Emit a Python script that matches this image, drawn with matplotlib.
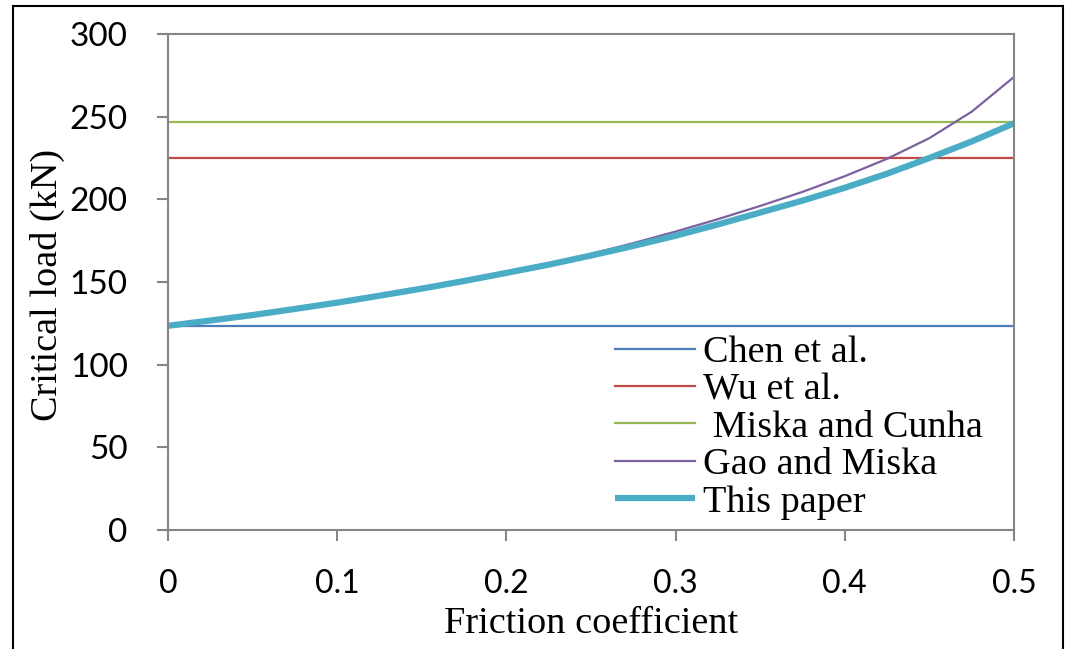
import matplotlib
matplotlib.use("Agg")
import matplotlib.pyplot as plt
from matplotlib.patches import Rectangle

# friction coefficient and critical loads (kN)
mu = [0.0, 0.025, 0.05, 0.075, 0.1, 0.125, 0.15, 0.175, 0.2, 0.225, 0.25,
      0.275, 0.3, 0.325, 0.35, 0.375, 0.4, 0.425, 0.45, 0.475, 0.5]
chen = 123.5
wu = 225.3
miska_cunha = 246.8
gao_miska = [123.5, 126.7, 130.0, 133.7, 137.5, 141.7, 146.0, 150.7, 155.7, 161.0, 167.0,
             173.5, 180.5, 188.0, 196.0, 204.5, 214.0, 224.5, 237.0, 253.0, 274.0]
this_paper = [123.5, 126.7, 130.0, 133.7, 137.5, 141.7, 146.0, 150.6, 155.5, 160.5, 166.0,
              171.8, 178.0, 184.8, 192.0, 199.2, 207.0, 215.5, 225.0, 235.0, 246.0]

labels = ["Chen et al.", "Wu et al.", " Miska and Cunha", "Gao and Miska", "This paper"]
colors = ["#4A7EBB", "#BE4B48", "#98B954", "#7D60A0", "#4BACC6"]

fig = plt.figure(figsize=(10.68, 6.49), dpi=100)
ax = fig.add_axes([0.1573, 0.1834, 0.7921, 0.7642])

ax.plot([mu[0], mu[-1]], [chen, chen], color=colors[0], lw=1.6, label=labels[0])
ax.plot([mu[0], mu[-1]], [wu, wu], color=colors[1], lw=1.6, label=labels[1])
ax.plot([mu[0], mu[-1]], [miska_cunha, miska_cunha], color=colors[2], lw=1.6, label=labels[2])
ax.plot(mu, gao_miska, color=colors[3], lw=1.6, label=labels[3])
ax.plot(mu, this_paper, color=colors[4], lw=4.5, label=labels[4], solid_capstyle="butt")

ax.set_xlim(0, 0.5)
ax.set_ylim(0, 300)
ax.set_xticks([0, 0.1, 0.2, 0.3, 0.4, 0.5])
ax.set_xticklabels(["0", "0.1", "0.2", "0.3", "0.4", "0.5"])
ax.set_yticks(range(0, 301, 50))

for s in ax.spines.values():
    s.set_color("#868686")
    s.set_linewidth(1.5)
ax.tick_params(direction="out", length=8, width=1.5, color="#868686")
ax.tick_params(axis="x", labelsize=23, pad=20)
ax.tick_params(axis="y", labelsize=24, pad=21)
for lab in ax.get_xticklabels() + ax.get_yticklabels():
    lab.set_family("Lato")

ax.set_xlabel("Friction coefficient", family="Liberation Serif", fontsize=27.5)
ax.set_ylabel("Critical load (kN)", family="Liberation Serif", fontsize=27.5)
ax.xaxis.set_label_coords(0.5, -0.155)
ax.yaxis.set_label_coords(-0.122, 0.494)

leg = ax.legend(loc="center left", bbox_to_anchor=(0.5106, 0.2067), frameon=False,
                borderaxespad=0, prop={"family": "Liberation Serif", "size": 27.5},
                handlelength=2.1, handletextpad=0.2, labelspacing=0.07)

fig.patches.append(Rectangle((13 / 1068, -0.01), (1063 - 13) / 1068, (649 - 6) / 649 + 0.01,
                             transform=fig.transFigure, fill=False,
                             edgecolor="black", lw=1.5))

fig.savefig("out.png", dpi=100)
